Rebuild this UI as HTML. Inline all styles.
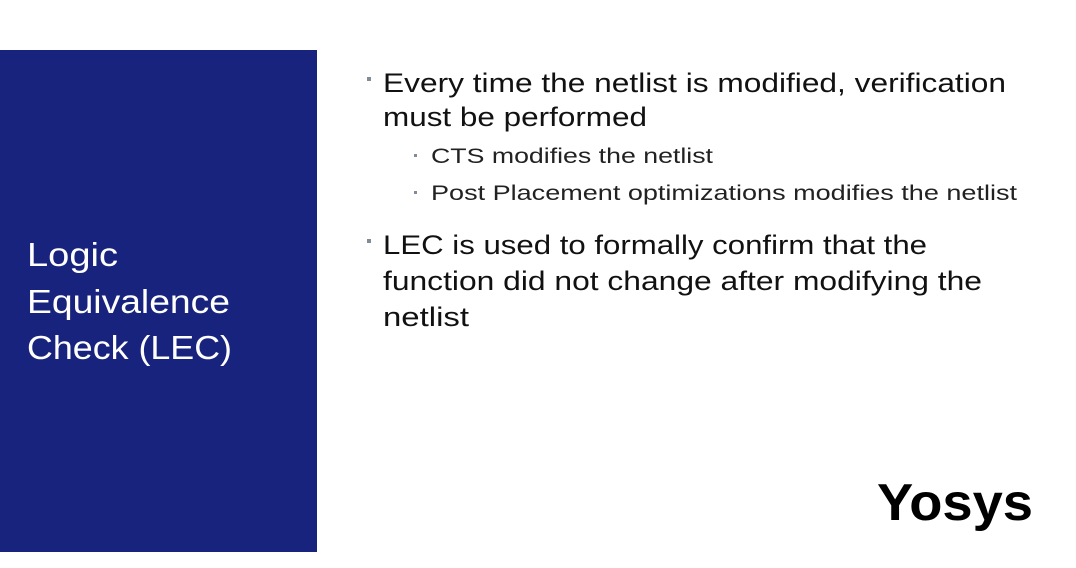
<!DOCTYPE html>
<html><head><meta charset="utf-8"><style>
html,body{margin:0;padding:0;background:#fff;width:1076px;height:568px;overflow:hidden}
svg{display:block}
</style></head><body>
<svg width="1076" height="568" xmlns="http://www.w3.org/2000/svg" font-family="Liberation Sans, sans-serif">
<rect x="0" y="0" width="1076" height="568" fill="#fff"/>
<rect x="0" y="50" width="317" height="502" fill="#17237d"/>
<g fill="#fff" font-size="33">
<text x="27" y="266" textLength="91" lengthAdjust="spacingAndGlyphs">Logic</text>
<text x="27" y="313" textLength="203" lengthAdjust="spacingAndGlyphs">Equivalence</text>
<text x="27" y="359" textLength="205" lengthAdjust="spacingAndGlyphs">Check (LEC)</text>
</g>
<g fill="#7f8c99">
<rect x="367" y="77" width="4" height="4"/>
<rect x="367" y="239" width="4" height="4"/>
<rect x="414" y="154" width="3" height="3"/>
<rect x="414" y="191" width="3" height="3"/>
</g>
<g fill="#111" font-size="27">
<text x="383" y="92" textLength="623" lengthAdjust="spacingAndGlyphs">Every time the netlist is modified, verification</text>
<text x="383" y="126" textLength="264" lengthAdjust="spacingAndGlyphs">must be performed</text>
<text x="383" y="254" textLength="544" lengthAdjust="spacingAndGlyphs">LEC is used to formally confirm that the</text>
<text x="383" y="290" textLength="599" lengthAdjust="spacingAndGlyphs">function did not change after modifying the</text>
<text x="383" y="326" textLength="86" lengthAdjust="spacingAndGlyphs">netlist</text>
</g>
<g fill="#222" font-size="21">
<text x="431" y="163" textLength="282" lengthAdjust="spacingAndGlyphs">CTS modifies the netlist</text>
<text x="431" y="200" textLength="586" lengthAdjust="spacingAndGlyphs">Post Placement optimizations modifies the netlist</text>
</g>
<text x="877" y="520" font-size="52" font-weight="bold" fill="#000" textLength="156" lengthAdjust="spacingAndGlyphs">Yosys</text>
</svg>
</body></html>
